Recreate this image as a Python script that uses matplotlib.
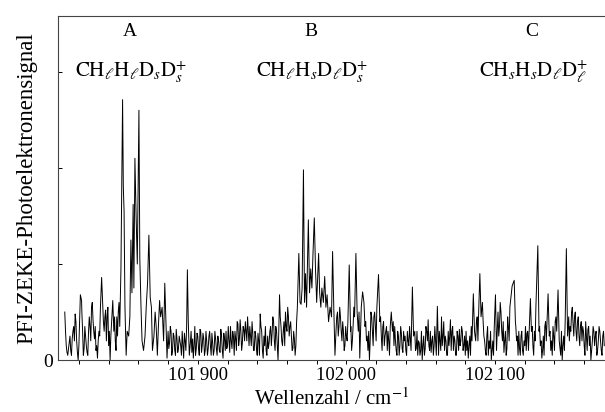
import matplotlib
matplotlib.use("Agg")
import matplotlib.pyplot as plt
from matplotlib.ticker import MultipleLocator

plt.rcParams['font.family'] = ['Liberation Serif', 'DejaVu Serif']
plt.rcParams['mathtext.fontset'] = 'stix'

# PFI-ZEKE spectrum (wavenumber in cm-1, signal in arb. units)
wavenumber = [
    101810.5, 101811.5, 101812.5, 101813.5, 101814.5, 101815.5, 101816.5, 101817.5, 101818.5, 101819.5,
    101820.5, 101821.0, 101821.8, 101822.5, 101823.5, 101824.5, 101825.5, 101826.5, 101827.5, 101828.5,
    101829.5, 101830.5, 101831.5, 101832.5, 101833.5, 101834.5, 101835.3, 101836.0, 101837.0, 101838.0,
    101839.0, 101840.0, 101841.0, 101842.0, 101842.8, 101843.5, 101844.5, 101845.5, 101846.5, 101847.5,
    101848.3, 101848.8, 101849.4, 101849.9, 101850.4, 101851.0, 101851.8, 101852.5, 101853.5, 101854.3,
    101855.0, 101855.7, 101856.5, 101857.0, 101857.7, 101858.5, 101859.3, 101860.4, 101861.0, 101861.8,
    101862.5, 101863.5, 101864.5, 101865.3, 101866.2, 101867.1, 101868.0, 101868.8, 101869.5, 101870.5,
    101871.3, 101872.0, 101872.8, 101873.5, 101874.3, 101875.0, 101876.0, 101877.0, 101877.8, 101878.5,
    101879.3, 101880.0, 101881.0, 101882.0, 101883.0, 101884.0, 101885.0, 101886.0, 101887.0, 101888.0,
    101889.0, 101890.0, 101891.0, 101892.0, 101893.0, 101893.6, 101894.3, 101895.0, 101896.0, 101897.0,
    101898.0, 101899.0, 101900.0, 101901.0, 101902.0, 101903.0, 101904.0, 101905.0, 101906.0, 101907.0,
    101908.0, 101909.0, 101910.0, 101911.0, 101912.0, 101913.0, 101914.0, 101915.0, 101916.0, 101917.0,
    101918.0, 101919.0, 101920.0, 101921.0, 101922.0, 101923.0, 101924.0, 101925.0, 101926.0, 101927.0,
    101928.0, 101929.0, 101930.0, 101931.0, 101932.0, 101933.0, 101934.0, 101935.0, 101936.0, 101937.0,
    101938.0, 101939.0, 101940.0, 101941.0, 101942.0, 101943.0, 101944.0, 101945.0, 101946.0, 101947.0,
    101948.0, 101949.0, 101950.0, 101951.0, 101952.0, 101953.0, 101954.0, 101955.0, 101956.0, 101957.0,
    101958.0, 101959.0, 101960.0, 101961.0, 101962.0, 101963.0, 101964.0, 101965.0, 101966.0, 101967.0,
    101968.0, 101968.8, 101969.5, 101970.2, 101971.1, 101971.8, 101972.5, 101973.2, 101974.4, 101975.2,
    101976.0, 101976.8, 101977.5, 101978.4, 101979.2, 101980.0, 101981.3, 101982.0, 101982.8, 101983.5,
    101984.5, 101985.4, 101986.2, 101987.0, 101988.0, 101989.0, 101990.0, 101990.7, 101991.5, 101992.3,
    101993.0, 101994.0, 101995.0, 101996.0, 101997.0, 101998.0, 101999.0, 102000.0, 102001.0, 102001.9,
    102002.8, 102003.5, 102004.5, 102005.5, 102006.4, 102007.2, 102008.0, 102009.0, 102010.0, 102010.9,
    102011.8, 102012.5, 102013.5, 102014.5, 102015.5, 102016.5, 102017.5, 102018.5, 102019.5, 102020.5,
    102021.6, 102022.5, 102023.5, 102024.5, 102025.5, 102026.5, 102027.5, 102028.5, 102029.5, 102030.2,
    102031.0, 102032.0, 102033.0, 102034.0, 102035.0, 102036.0, 102037.0, 102038.0, 102039.0, 102040.0,
    102041.0, 102042.0, 102043.0, 102044.4, 102045.2, 102046.0, 102047.0, 102048.0, 102049.0, 102050.0,
    102051.0, 102052.0, 102053.0, 102054.0, 102055.0, 102056.0, 102057.0, 102058.0, 102059.0, 102060.0,
    102061.2, 102062.0, 102063.0, 102064.0, 102065.0, 102066.0, 102067.0, 102068.0, 102069.0, 102070.0,
    102071.0, 102072.0, 102073.0, 102074.0, 102075.0, 102076.0, 102077.0, 102078.0, 102079.0, 102080.0,
    102081.0, 102082.0, 102083.0, 102084.0, 102085.4, 102086.2, 102087.0, 102088.0, 102089.0, 102089.8,
    102090.6, 102091.5, 102092.5, 102093.5, 102094.5, 102095.5, 102096.5, 102097.5, 102098.5, 102099.5,
    102100.3, 102101.0, 102102.0, 102103.0, 102104.0, 102105.0, 102106.0, 102107.0, 102108.0, 102109.0,
    102110.0, 102111.5, 102112.9, 102113.7, 102114.5, 102115.5, 102116.5, 102117.5, 102118.5, 102119.5,
    102120.5, 102121.5, 102122.5, 102123.8, 102124.5, 102125.5, 102126.5, 102127.5, 102128.8, 102129.6,
    102130.5, 102131.5, 102132.5, 102133.5, 102134.5, 102135.7, 102136.5, 102137.5, 102138.5, 102139.5,
    102140.5, 102141.5, 102142.4, 102143.2, 102144.2, 102145.2, 102146.2, 102147.2, 102148.0, 102148.8,
    102149.6, 102150.5, 102151.5, 102152.5, 102153.5, 102154.5, 102155.5, 102156.5, 102157.5, 102158.5,
    102159.5, 102160.5, 102161.5, 102162.5, 102163.5, 102164.5, 102165.5, 102166.5, 102167.5, 102168.5,
    102169.5, 102170.5, 102171.5, 102172.5, 102173.5,
]
signal = [
    0.50, 0.15, 0.05, 0.18, 0.10, 0.22, 0.35, 0.48, 0.20, 0.00,
    0.40, 0.68, 0.62, 0.30, 0.12, 0.25, 0.08, 0.30, 0.35, 0.55,
    0.42, 0.22, 0.10, 0.02, 0.30, 0.55, 0.86, 0.60, 0.30, 0.52,
    0.45, 0.15, 0.00, 0.40, 0.62, 0.30, 0.20, 0.45, 0.50, 0.35,
    0.95, 1.75, 2.71, 1.80, 1.55, 0.55, 0.05, 0.30, 0.25, 0.45,
    1.25, 0.70, 1.62, 0.75, 2.10, 1.50, 1.00, 2.60, 1.05, 0.55,
    0.20, 0.10, 0.25, 0.55, 0.80, 1.30, 0.65, 0.55, 0.10, 0.25,
    0.50, 0.35, 0.05, 0.35, 0.62, 0.45, 0.55, 0.20, 0.80, 0.45,
    0.02, 0.30, 0.18, 0.30, 0.10, 0.25, 0.05, 0.22, 0.12, 0.20,
    0.05, 0.15, 0.28, 0.10, 0.94, 0.40, 0.05, 0.18, 0.08, 0.02,
    0.35, 0.12, 0.25, 0.05, 0.30, 0.15, 0.22, 0.10, 0.20, 0.12,
    0.30, 0.05, 0.18, 0.10, 0.22, 0.05, 0.20, 0.08, 0.25, 0.02,
    0.22, 0.30, 0.15, 0.20, 0.35, 0.12, 0.25, 0.30, 0.10, 0.38,
    0.22, 0.30, 0.18, 0.32, 0.40, 0.20, 0.30, 0.35, 0.15, 0.28,
    0.10, 0.25, 0.05, 0.20, 0.48, 0.30, 0.02, 0.15, 0.10, 0.25,
    0.18, 0.35, 0.28, 0.40, 0.10, 0.30, 0.00, 0.68, 0.35, 0.15,
    0.40, 0.50, 0.30, 0.45, 0.35, 0.25, 0.12, 0.22, 0.15, 0.55,
    1.11, 0.60, 0.58, 0.75, 1.98, 0.60, 0.90, 0.55, 1.46, 0.70,
    0.95, 0.75, 1.10, 1.48, 0.95, 0.60, 1.11, 0.70, 0.55, 0.75,
    0.60, 0.87, 0.55, 0.68, 0.40, 0.55, 0.45, 1.13, 0.55, 0.05,
    0.30, 0.50, 0.35, 0.45, 0.20, 0.30, 0.15, 0.25, 0.40, 0.99,
    0.30, 0.10, 0.35, 0.45, 1.11, 0.50, 0.30, 0.02, 0.55, 0.71,
    0.60, 0.35, 0.20, 0.10, 0.00, 0.50, 0.30, 0.45, 0.35, 0.55,
    0.89, 0.40, 0.25, 0.35, 0.15, 0.30, 0.10, 0.20, 0.35, 0.50,
    0.30, 0.15, 0.20, 0.05, 0.25, 0.15, 0.28, 0.08, 0.20, 0.10,
    0.30, 0.15, 0.22, 0.76, 0.25, 0.30, 0.12, 0.05, 0.18, 0.10,
    0.00, 0.25, 0.12, 0.30, 0.42, 0.10, 0.08, 0.25, 0.15, 0.20,
    0.56, 0.05, 0.20, 0.45, 0.25, 0.10, 0.20, 0.05, 0.15, 0.42,
    0.30, 0.10, 0.20, 0.05, 0.25, 0.32, 0.20, 0.30, 0.15, 0.05,
    0.10, 0.02, 0.25, 0.35, 0.69, 0.30, 0.20, 0.45, 0.50, 0.90,
    0.45, 0.60, 0.25, 0.10, 0.25, 0.05, 0.12, 0.00, 0.20, 0.35,
    0.68, 0.10, 0.50, 0.35, 0.50, 0.20, 0.08, 0.30, 0.12, 0.35,
    0.55, 0.77, 0.83, 0.40, 0.20, 0.05, 0.12, 0.25, 0.10, 0.20,
    0.35, 0.28, 0.10, 0.64, 0.30, 0.15, 0.30, 0.55, 1.19, 0.30,
    0.15, 0.02, 0.25, 0.35, 0.20, 0.69, 0.25, 0.10, 0.05, 0.25,
    0.40, 0.30, 0.73, 0.20, 0.05, 0.00, 0.25, 0.40, 1.16, 0.25,
    0.45, 0.35, 0.50, 0.38, 0.45, 0.30, 0.40, 0.25, 0.35, 0.20,
    0.30, 0.05, 0.25, 0.32, 0.15, 0.00, 0.20, 0.30, 0.25, 0.05,
    0.20, 0.30, 0.10, 0.25, 0.15,
]

# extra readings between the points above, in the noisy stretches
wavenumber_fill = [
    101811.0, 101812.0, 101813.0, 101814.0, 101815.0, 101816.0, 101817.0, 101818.0, 101819.0, 101820.0,
    101822.0, 101823.0, 101824.0, 101825.0, 101826.0, 101827.0, 101828.0, 101829.0, 101830.0, 101831.0,
    101832.0, 101833.0, 101834.0, 101836.5, 101837.5, 101838.5, 101839.5, 101840.5, 101841.5, 101844.0,
    101845.0, 101846.0, 101847.0,
    101880.5, 101881.5, 101882.5, 101883.5, 101884.5, 101885.5, 101886.5, 101887.5, 101888.5, 101889.5,
    101890.5, 101891.5, 101892.5, 101895.5, 101896.5, 101897.5, 101898.5, 101899.5, 101900.5, 101901.5,
    101902.5, 101903.5, 101904.5, 101905.5, 101906.5, 101907.5, 101908.5, 101909.5, 101910.5, 101911.5,
    101912.5, 101913.5, 101914.5, 101915.5, 101916.5, 101917.5, 101918.5, 101919.5, 101920.5, 101921.5,
    101922.5, 101923.5, 101924.5, 101925.5, 101926.5, 101927.5, 101928.5, 101929.5, 101930.5, 101931.5,
    101932.5, 101933.5, 101934.5, 101935.5, 101936.5, 101937.5,
    101938.5, 101939.5, 101940.5, 101941.5, 101942.5, 101943.5, 101944.5, 101945.5, 101946.5, 101947.5,
    101948.5, 101949.5, 101950.5, 101951.5, 101952.5, 101953.5, 101954.5, 101955.5, 101956.5, 101957.5,
    101958.5, 101959.5, 101960.5, 101961.5, 101962.5, 101963.5, 101964.5, 101965.5, 101966.5,
    101993.5, 101994.5, 101995.5, 101996.5, 101997.5, 101998.5, 101999.5, 102000.5, 102003.0, 102004.0,
    102005.0, 102008.5, 102009.5, 102013.0, 102014.0, 102015.0, 102016.0, 102017.0, 102018.0, 102019.0,
    102020.0, 102023.0, 102024.0, 102025.0, 102026.0, 102027.0, 102028.0, 102029.0, 102031.5, 102032.5,
    102033.5, 102034.5, 102035.5, 102036.5, 102037.5, 102038.5, 102039.5, 102040.5, 102041.5, 102042.5,
    102043.5, 102046.5, 102047.5, 102048.5, 102049.5, 102050.5, 102051.5, 102052.5, 102053.5, 102054.5,
    102055.5, 102056.5, 102057.5, 102058.5, 102059.5, 102060.5,
    102062.5, 102063.5, 102064.5, 102065.5, 102066.5, 102067.5, 102068.5, 102069.5, 102070.5, 102071.5,
    102072.5, 102073.5, 102074.5, 102075.5, 102076.5, 102077.5, 102078.5, 102079.5, 102080.5, 102081.5,
    102082.5, 102083.5, 102084.5, 102087.5, 102088.5, 102092.0, 102093.0, 102094.0, 102095.0, 102096.0,
    102097.0, 102098.0, 102099.0, 102102.5, 102103.5, 102104.5, 102105.5, 102106.5, 102107.5, 102108.5,
    102109.5, 102114.0, 102115.0, 102116.0, 102117.0, 102118.0, 102119.0, 102120.0, 102121.0, 102122.0,
    102125.0, 102126.0, 102127.0, 102130.0, 102131.0, 102132.0, 102133.0, 102134.0, 102137.0, 102138.0,
    102139.0, 102140.0, 102141.0, 102144.7, 102145.7, 102146.7, 102150.0, 102151.0, 102152.0, 102153.0,
    102154.0, 102155.0, 102156.0, 102157.0, 102158.0, 102159.0, 102160.0, 102161.0, 102162.0, 102163.0,
    102164.0, 102165.0, 102166.0, 102167.0, 102168.0, 102169.0, 102170.0, 102171.0, 102172.0, 102173.0,
]
signal_fill = [
    0.30, 0.08, 0.12, 0.25, 0.05, 0.30, 0.20, 0.40, 0.08, 0.15,
    0.50, 0.05, 0.35, 0.15, 0.05, 0.45, 0.20, 0.60, 0.30, 0.35,
    0.15, 0.20, 0.25, 0.40, 0.45, 0.20, 0.55, 0.30, 0.25, 0.45,
    0.10, 0.25, 0.60,
    0.12, 0.35, 0.05, 0.28, 0.10, 0.32, 0.08, 0.25, 0.15, 0.30,
    0.02, 0.20, 0.35, 0.30, 0.22, 0.15, 0.05, 0.28, 0.12, 0.32,
    0.08, 0.28, 0.05, 0.30, 0.05, 0.25, 0.15, 0.28, 0.05, 0.30,
    0.12, 0.25, 0.10, 0.32, 0.10, 0.28, 0.10, 0.12, 0.35, 0.08,
    0.20, 0.30, 0.05, 0.22, 0.40, 0.15, 0.42, 0.10, 0.35, 0.20,
    0.30, 0.45, 0.15, 0.25, 0.40, 0.10,
    0.30, 0.12, 0.28, 0.05, 0.35, 0.10, 0.25, 0.35, 0.05, 0.12,
    0.30, 0.15, 0.45, 0.20, 0.35, 0.15, 0.30, 0.45, 0.20, 0.30,
    0.15, 0.35, 0.55, 0.25, 0.40, 0.10, 0.30, 0.05, 0.40,
    0.45, 0.25, 0.55, 0.30, 0.40, 0.10, 0.35, 0.20, 0.35, 0.20,
    0.55, 0.50, 0.30, 0.40, 0.25, 0.30, 0.20, 0.45, 0.15, 0.50,
    0.20, 0.45, 0.10, 0.40, 0.25, 0.35, 0.30, 0.05, 0.40, 0.35,
    0.10, 0.30, 0.05, 0.35, 0.12, 0.30, 0.25, 0.05, 0.20, 0.35,
    0.10, 0.10, 0.30, 0.20, 0.05, 0.30, 0.15, 0.05, 0.35, 0.20,
    0.15, 0.30, 0.20, 0.05, 0.35, 0.05,
    0.30, 0.10, 0.15, 0.40, 0.25, 0.05, 0.30, 0.25, 0.10, 0.35,
    0.25, 0.05, 0.30, 0.10, 0.15, 0.35, 0.10, 0.25, 0.30, 0.20,
    0.15, 0.05, 0.20, 0.40, 0.20, 0.40, 0.20, 0.05, 0.35, 0.20,
    0.30, 0.10, 0.05, 0.25, 0.60, 0.30, 0.40, 0.20, 0.05, 0.45,
    0.20, 0.35, 0.25, 0.30, 0.05, 0.30, 0.05, 0.15, 0.10, 0.30,
    0.35, 0.05, 0.20, 0.35, 0.20, 0.10, 0.05, 0.40, 0.30, 0.20,
    0.35, 0.10, 0.45, 0.30, 0.15, 0.10, 0.20, 0.30, 0.55, 0.25,
    0.50, 0.20, 0.45, 0.15, 0.40, 0.35, 0.15, 0.40, 0.10, 0.35,
    0.25, 0.10, 0.35, 0.15, 0.30, 0.10, 0.35, 0.20, 0.05, 0.30,
]

# band labels: x position, letter, isotopomer formula
band_x = [101855, 101977, 102126]
band_letters = ['A', 'B', 'C']
band_formulas = [
    r'$\mathrm{CH}_{\ell}\mathrm{H}_{\ell}\mathrm{D}_{s}\mathrm{D}_{s}^{+}$',
    r'$\mathrm{CH}_{\ell}\mathrm{H}_{s}\mathrm{D}_{\ell}\mathrm{D}_{s}^{+}$',
    r'$\mathrm{CH}_{s}\mathrm{H}_{s}\mathrm{D}_{\ell}\mathrm{D}_{\ell}^{+}$',
]

# merge the two sets of readings in wavenumber order
points = sorted(zip(wavenumber + wavenumber_fill, signal + signal_fill))
xs = [p[0] for p in points]
ys = [p[1] for p in points]

fig = plt.figure(figsize=(6.05, 4.12), dpi=100)
ax = fig.add_axes([0.096, 0.126, 0.904, 0.835])

ax.plot(xs, ys, color='black', lw=0.7)

ax.set_xlim(101806, 102174)
ax.set_ylim(0, 3.58)

ax.spines['right'].set_visible(False)
for s in ['left', 'top', 'bottom']:
    ax.spines[s].set_linewidth(0.8)
    ax.spines[s].set_color('#444444')

ax.set_xticks([101900, 102000, 102100])
ax.set_xticklabels(['101\u2009900', '102\u2009000', '102\u2009100'], fontsize=13.5)
ax.xaxis.set_minor_locator(MultipleLocator(20))
ax.tick_params(axis='x', which='both', direction='out', length=3, width=0.7, pad=2)

ax.set_yticks([0, 1, 2, 3])
ax.set_yticklabels(['0', '', '', ''], fontsize=14)
ax.tick_params(axis='y', direction='in', length=3, width=0.7, pad=4)

ax.set_xlabel('Wellenzahl / cm$^{-1}$', fontsize=15, labelpad=3)
ax.set_ylabel('PFI-ZEKE-Photoelektronensignal', fontsize=16.5, labelpad=4)

for x, letter, formula in zip(band_x, band_letters, band_formulas):
    ax.text(x - 1, 3.42, letter, ha='center', va='center', fontsize=14)
    ax.text(x, 3.0, formula, ha='center', va='center', fontsize=15)

fig.savefig('out.png', dpi=100)
